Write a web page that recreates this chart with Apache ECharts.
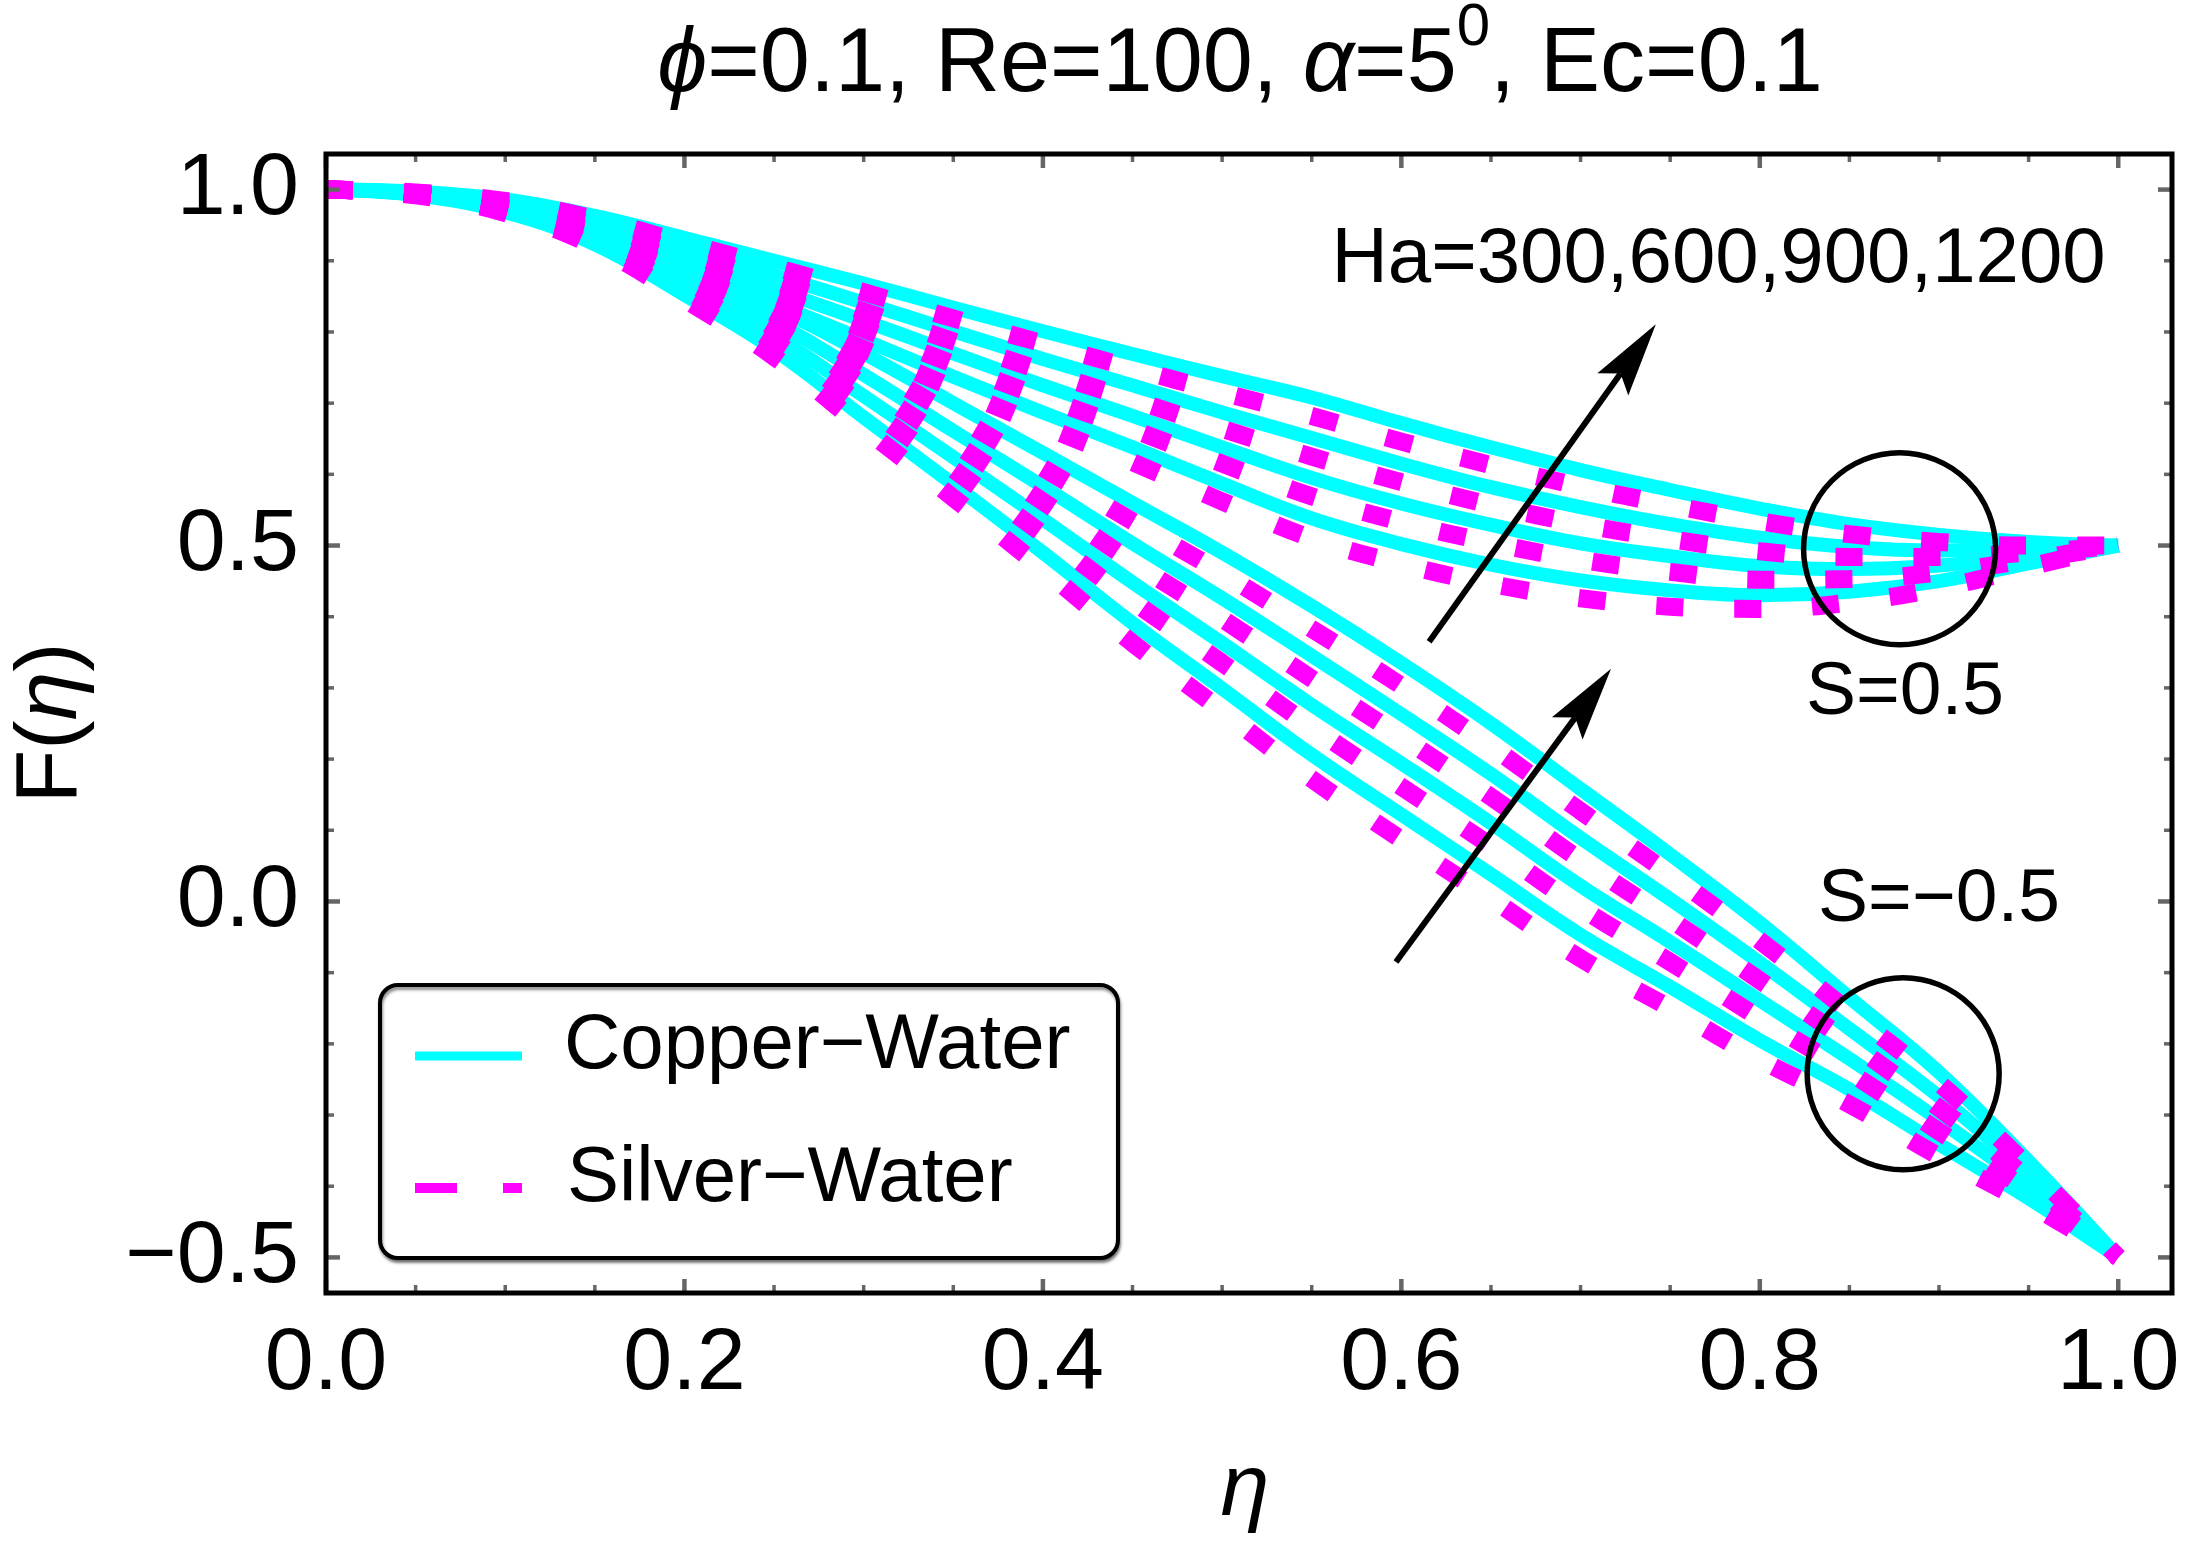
<!DOCTYPE html>
<html>
<head>
<meta charset="utf-8">
<title>F(eta) profiles</title>
<script src="https://cdn.jsdelivr.net/npm/echarts@6.0.0/dist/echarts.min.js"></script>
<style>
html, body { margin: 0; padding: 0; background: #fff; }
#chart { width: 2189px; height: 1553px; }
</style>
</head>
<body>
<div id="chart"></div>
<script>
// eta grid
var eta = [0, 0.05, 0.1, 0.15, 0.2, 0.25, 0.3, 0.35, 0.4, 0.45, 0.5,
           0.55, 0.6, 0.65, 0.7, 0.75, 0.8, 0.85, 0.9, 0.95, 1.0];

// S = 0.5
var cuS05Ha1200 = [1, .997, .986, .963, .932, .900, .868, .834, .801, .769, .738, .708, .672, .638, .606, .578, .552, .530, .515, .505, .500];
var agS05Ha1200 = [1, .996, .984, .959, .925, .891, .856, .819, .784, .749, .715, .682, .646, .613, .583, .557, .534, .516, .505, .500, .500];
var cuS05Ha900  = [1, .996, .981, .954, .918, .880, .841, .801, .762, .725, .687, .651, .615, .582, .554, .530, .511, .498, .493, .495, .500];
var agS05Ha900  = [1, .995, .979, .950, .911, .871, .829, .787, .745, .705, .664, .625, .589, .557, .530, .509, .492, .484, .484, .490, .500];
var cuS05Ha600  = [1, .995, .977, .945, .904, .860, .816, .770, .725, .682, .638, .595, .559, .529, .503, .485, .471, .467, .472, .485, .500];
var agS05Ha600  = [1, .994, .975, .941, .897, .851, .804, .755, .708, .663, .615, .569, .533, .504, .480, .463, .452, .453, .462, .480, .500];
var cuS05Ha300  = [1, .994, .972, .936, .889, .840, .789, .737, .687, .638, .587, .538, .502, .473, .451, .437, .430, .435, .450, .475, .500];
var agS05Ha300  = [1, .993, .970, .932, .882, .830, .776, .721, .668, .617, .562, .510, .474, .446, .426, .414, .411, .420, .440, .470, .500];

// S = -0.5
var cuSm05Ha1200 = [1, .994, .975, .940, .890, .835, .770, .700, .630, .560, .490, .415, .335, .250, .158, .066, -.030, -.135, -.240, -.365, -.500];
var agSm05Ha1200 = [1, .994, .974, .937, .884, .826, .756, .683, .609, .534, .461, .383, .303, .218, .127, .038, -.055, -.155, -.255, -.373, -.500];
var cuSm05Ha900  = [1, .993, .973, .934, .877, .815, .740, .661, .583, .503, .426, .345, .263, .179, .089, .003, -.086, -.179, -.274, -.382, -.500];
var agSm05Ha900  = [1, .993, .972, .932, .872, .806, .726, .644, .562, .477, .397, .313, .231, .147, .058, -.025, -.111, -.198, -.290, -.390, -.500];
var cuSm05Ha600  = [1, .993, .970, .929, .865, .795, .710, .624, .537, .448, .363, .276, .194, .110, .022, -.057, -.139, -.221, -.307, -.399, -.500];
var agSm05Ha600  = [1, .993, .969, .926, .859, .786, .697, .607, .516, .422, .335, .245, .161, .078, -.009, -.085, -.164, -.240, -.323, -.407, -.500];
var cuSm05Ha300  = [1, .992, .968, .923, .852, .775, .680, .586, .490, .391, .299, .206, .122, .038, -.047, -.120, -.195, -.264, -.341, -.417, -.500];
var agSm05Ha300  = [1, .992, .967, .920, .846, .765, .665, .567, .467, .363, .268, .172, .087, .004, -.080, -.150, -.222, -.285, -.358, -.425, -.500];

// ticks
var xMajorTicks = [0, 0.2, 0.4, 0.6, 0.8, 1.0];
var xTickLabels = ['0.0', '0.2', '0.4', '0.6', '0.8', '1.0'];
var xMinorTicks = [0.05, 0.1, 0.15, 0.25, 0.3, 0.35, 0.45, 0.5, 0.55, 0.65, 0.7, 0.75, 0.85, 0.9, 0.95];
var yMajorTicks = [-0.5, 0, 0.5, 1.0];
var yTickLabels = ['\u22120.5', '0.0', '0.5', '1.0'];
var yMinorTicks = [-0.4, -0.3, -0.2, -0.1, 0.1, 0.2, 0.3, 0.4, 0.6, 0.7, 0.8, 0.9];

var X_MIN = 0, X_MAX = 1.03, Y_MIN = -0.55, Y_MAX = 1.05;
var FONT = '"Liberation Sans", Arial, Helvetica, sans-serif';

var chart = echarts.init(document.getElementById('chart'));

function pairs(ys) {
	return eta.map(function(x, i) { return [x, ys[i]]; });
}

function lineSeries(name, ys, silver) {
	return {
		name: name,
		type: 'line',
		data: pairs(ys),
		showSymbol: false,
		symbol: 'none',
		smooth: 0.4,
		silent: true,
		z: silver ? 3 : 2,
		lineStyle: silver
			? { color: '#ff00ff', width: 18, type: [27, 51], cap: 'butt' }
			: { color: '#00ffff', width: 14 }
	};
}

function labelOf(v, ticks, labels) {
	for (var i = 0; i < ticks.length; i++) {
		if (Math.abs(ticks[i] - v) < 1e-6) return labels[i];
	}
	return '';
}

// tick marks on all four sides, pointing inwards
function tickItems(major, minor, isX) {
	var out = [];
	major.forEach(function(v) { out.push(isX ? [v, Y_MIN, 1] : [X_MIN, v, 1]); });
	minor.forEach(function(v) { out.push(isX ? [v, Y_MIN, 0] : [X_MIN, v, 0]); });
	return out;
}

function renderTick(isX) {
	return function(params, api) {
		var v = api.value(isX ? 0 : 1);
		var major = api.value(2) === 1;
		var len = major ? 14 : 8;
		var style = { stroke: '#666', lineWidth: major ? 4.5 : 3.5 };
		var a, b;
		if (isX) {
			a = api.coord([v, Y_MIN]);
			b = api.coord([v, Y_MAX]);
			return { type: 'group', children: [
				{ type: 'line', shape: { x1: a[0], y1: a[1], x2: a[0], y2: a[1] - len }, style: style },
				{ type: 'line', shape: { x1: b[0], y1: b[1], x2: b[0], y2: b[1] + len }, style: style }
			] };
		}
		a = api.coord([X_MIN, v]);
		b = api.coord([X_MAX, v]);
		return { type: 'group', children: [
			{ type: 'line', shape: { x1: a[0], y1: a[1], x2: a[0] + len, y2: a[1] }, style: style },
			{ type: 'line', shape: { x1: b[0], y1: b[1], x2: b[0] - len, y2: b[1] }, style: style }
		] };
	};
}

var series = [
	lineSeries('Copper-Water', cuS05Ha300, false),
	lineSeries('Copper-Water', cuS05Ha600, false),
	lineSeries('Copper-Water', cuS05Ha900, false),
	lineSeries('Copper-Water', cuS05Ha1200, false),
	lineSeries('Copper-Water', cuSm05Ha300, false),
	lineSeries('Copper-Water', cuSm05Ha600, false),
	lineSeries('Copper-Water', cuSm05Ha900, false),
	lineSeries('Copper-Water', cuSm05Ha1200, false),
	lineSeries('Silver-Water', agS05Ha300, true),
	lineSeries('Silver-Water', agS05Ha600, true),
	lineSeries('Silver-Water', agS05Ha900, true),
	lineSeries('Silver-Water', agS05Ha1200, true),
	lineSeries('Silver-Water', agSm05Ha300, true),
	lineSeries('Silver-Water', agSm05Ha600, true),
	lineSeries('Silver-Water', agSm05Ha900, true),
	lineSeries('Silver-Water', agSm05Ha1200, true),
	{
		type: 'custom', silent: true, z: 10, clip: false,
		data: tickItems(xMajorTicks, xMinorTicks, true),
		encode: { x: 0, y: 1 },
		renderItem: renderTick(true)
	},
	{
		type: 'custom', silent: true, z: 10, clip: false,
		data: tickItems(yMajorTicks, yMinorTicks, false),
		encode: { x: 0, y: 1 },
		renderItem: renderTick(false)
	}
];

var option = {
	animation: false,
	backgroundColor: '#fff',
	textStyle: { fontFamily: FONT },
	grid: { left: 326, top: 154, width: 1846, height: 1139 },
	xAxis: {
		type: 'value', min: X_MIN, max: X_MAX, interval: 0.05,
		axisLine: { show: false }, axisTick: { show: false }, splitLine: { show: false },
		axisLabel: {
			margin: 28, color: '#000', fontSize: 88, fontFamily: FONT, lineHeight: 88,
			formatter: function(v) { return labelOf(v, xMajorTicks, xTickLabels); }
		}
	},
	yAxis: {
		type: 'value', min: Y_MIN, max: Y_MAX, interval: 0.05,
		axisLine: { show: false }, axisTick: { show: false }, splitLine: { show: false },
		axisLabel: {
			margin: 27, color: '#000', fontSize: 88, fontFamily: FONT,
			formatter: function(v) { return labelOf(v, yMajorTicks, yTickLabels); }
		}
	},
	series: series
};

chart.setOption(option);

// annotations, placed in data coordinates
var arrows = [
	{ from: [0.6155, 0.365], to: [0.742, 0.811] },
	{ from: [0.597, -0.085], to: [0.717, 0.327] }
];
var circles = [
	{ center: [0.878, 0.4955], r: 96 },
	{ center: [0.880, -0.242], r: 96 }
];
var notes = [
	{ text: 'Ha=300,600,900,1200', at: [0.777, 0.900], size: 78 },
	{ text: 'S=0.5', at: [0.881, 0.292], size: 75 },
	{ text: 'S=\u22120.5', at: [0.900, 0.002], size: 75 }
];

function px(p) { return chart.convertToPixel({ gridIndex: 0 }, p); }

var graphic = [];

var tl = px([X_MIN, Y_MAX]), br = px([X_MAX, Y_MIN]);
graphic.push({
	type: 'rect', z: 50, silent: true,
	shape: { x: tl[0], y: tl[1], width: br[0] - tl[0], height: br[1] - tl[1] },
	style: { fill: 'none', stroke: '#000', lineWidth: 5 }
});

arrows.forEach(function(a) {
	var p0 = px(a.from), p1 = px(a.to);
	var dx = p1[0] - p0[0], dy = p1[1] - p0[1];
	var L = Math.sqrt(dx * dx + dy * dy);
	var ux = dx / L, uy = dy / L, nx = -uy, ny = ux;
	var hl = 74, hw = 19;
	var bx = p1[0] - ux * hl, by = p1[1] - uy * hl;
	var notch = [bx + ux * hl * 0.18, by + uy * hl * 0.18];
	graphic.push({
		type: 'line', z: 60, silent: true,
		shape: { x1: p0[0], y1: p0[1], x2: notch[0], y2: notch[1] },
		style: { stroke: '#000', lineWidth: 6 }
	});
	graphic.push({
		type: 'polygon', z: 60, silent: true,
		shape: { points: [p1, [bx + nx * hw, by + ny * hw], notch, [bx - nx * hw, by - ny * hw]] },
		style: { fill: '#000' }
	});
});

circles.forEach(function(c) {
	var p = px(c.center);
	graphic.push({
		type: 'circle', z: 60, silent: true,
		shape: { cx: p[0], cy: p[1], r: c.r },
		style: { fill: 'none', stroke: '#000', lineWidth: 5.5 }
	});
});

notes.forEach(function(n) {
	var p = px(n.at);
	graphic.push({
		type: 'text', z: 70, silent: true, x: p[0], y: p[1],
		style: { text: n.text, fill: '#000', fontSize: n.size, fontFamily: FONT, align: 'center', verticalAlign: 'middle' }
	});
});

// title
graphic.push({
	type: 'text', z: 70, silent: true, x: 1240, y: 66,
	style: {
		text: '{i|\u03d5}=0.1, Re=100, {i|\u03b1}=5{sup|0}, Ec=0.1',
		fill: '#000', fontSize: 90, fontFamily: FONT, align: 'center', verticalAlign: 'middle',
		rich: {
			i: { fontStyle: 'italic', fontSize: 90, fontFamily: FONT, fill: '#000' },
			sup: { fontSize: 60, fontFamily: FONT, fill: '#000', padding: [0, 0, 75, 0] }
		}
	}
});

// axis names
graphic.push({
	type: 'text', z: 70, silent: true, x: 1245, y: 1491,
	style: { text: '\u03b7', fill: '#000', fontSize: 88, fontStyle: 'italic', fontFamily: FONT, align: 'center', verticalAlign: 'middle' }
});
graphic.push({
	type: 'text', z: 70, silent: true, x: 52, y: 723, rotation: Math.PI / 2,
	style: {
		text: 'F({i|\u03b7})', fill: '#000', fontSize: 88, fontFamily: FONT, align: 'center', verticalAlign: 'middle',
		rich: { i: { fontStyle: 'italic', fontSize: 88, fontFamily: FONT, fill: '#000' } }
	}
});

// legend box
graphic.push({
	type: 'rect', z: 80, silent: true,
	shape: { x: 380, y: 985, width: 738, height: 273, r: 18 },
	style: { fill: '#fff', stroke: '#000', lineWidth: 4, shadowBlur: 3, shadowOffsetX: 1, shadowOffsetY: 3, shadowColor: 'rgba(0,0,0,0.45)' }
});
graphic.push({
	type: 'line', z: 81, silent: true,
	shape: { x1: 415, y1: 1056, x2: 522, y2: 1056 },
	style: { stroke: '#00ffff', lineWidth: 9 }
});
graphic.push({
	type: 'line', z: 81, silent: true,
	shape: { x1: 415, y1: 1188, x2: 522, y2: 1188 },
	style: { stroke: '#ff00ff', lineWidth: 10, lineDash: [42, 46] }
});
graphic.push({
	type: 'text', z: 81, silent: true, x: 564, y: 1046,
	style: { text: 'Copper\u2212Water', fill: '#000', fontSize: 78, fontFamily: FONT, align: 'left', verticalAlign: 'middle' }
});
graphic.push({
	type: 'text', z: 81, silent: true, x: 567, y: 1179,
	style: { text: 'Silver\u2212Water', fill: '#000', fontSize: 78, fontFamily: FONT, align: 'left', verticalAlign: 'middle' }
});

chart.setOption({ graphic: graphic });
</script>
</body>
</html>
